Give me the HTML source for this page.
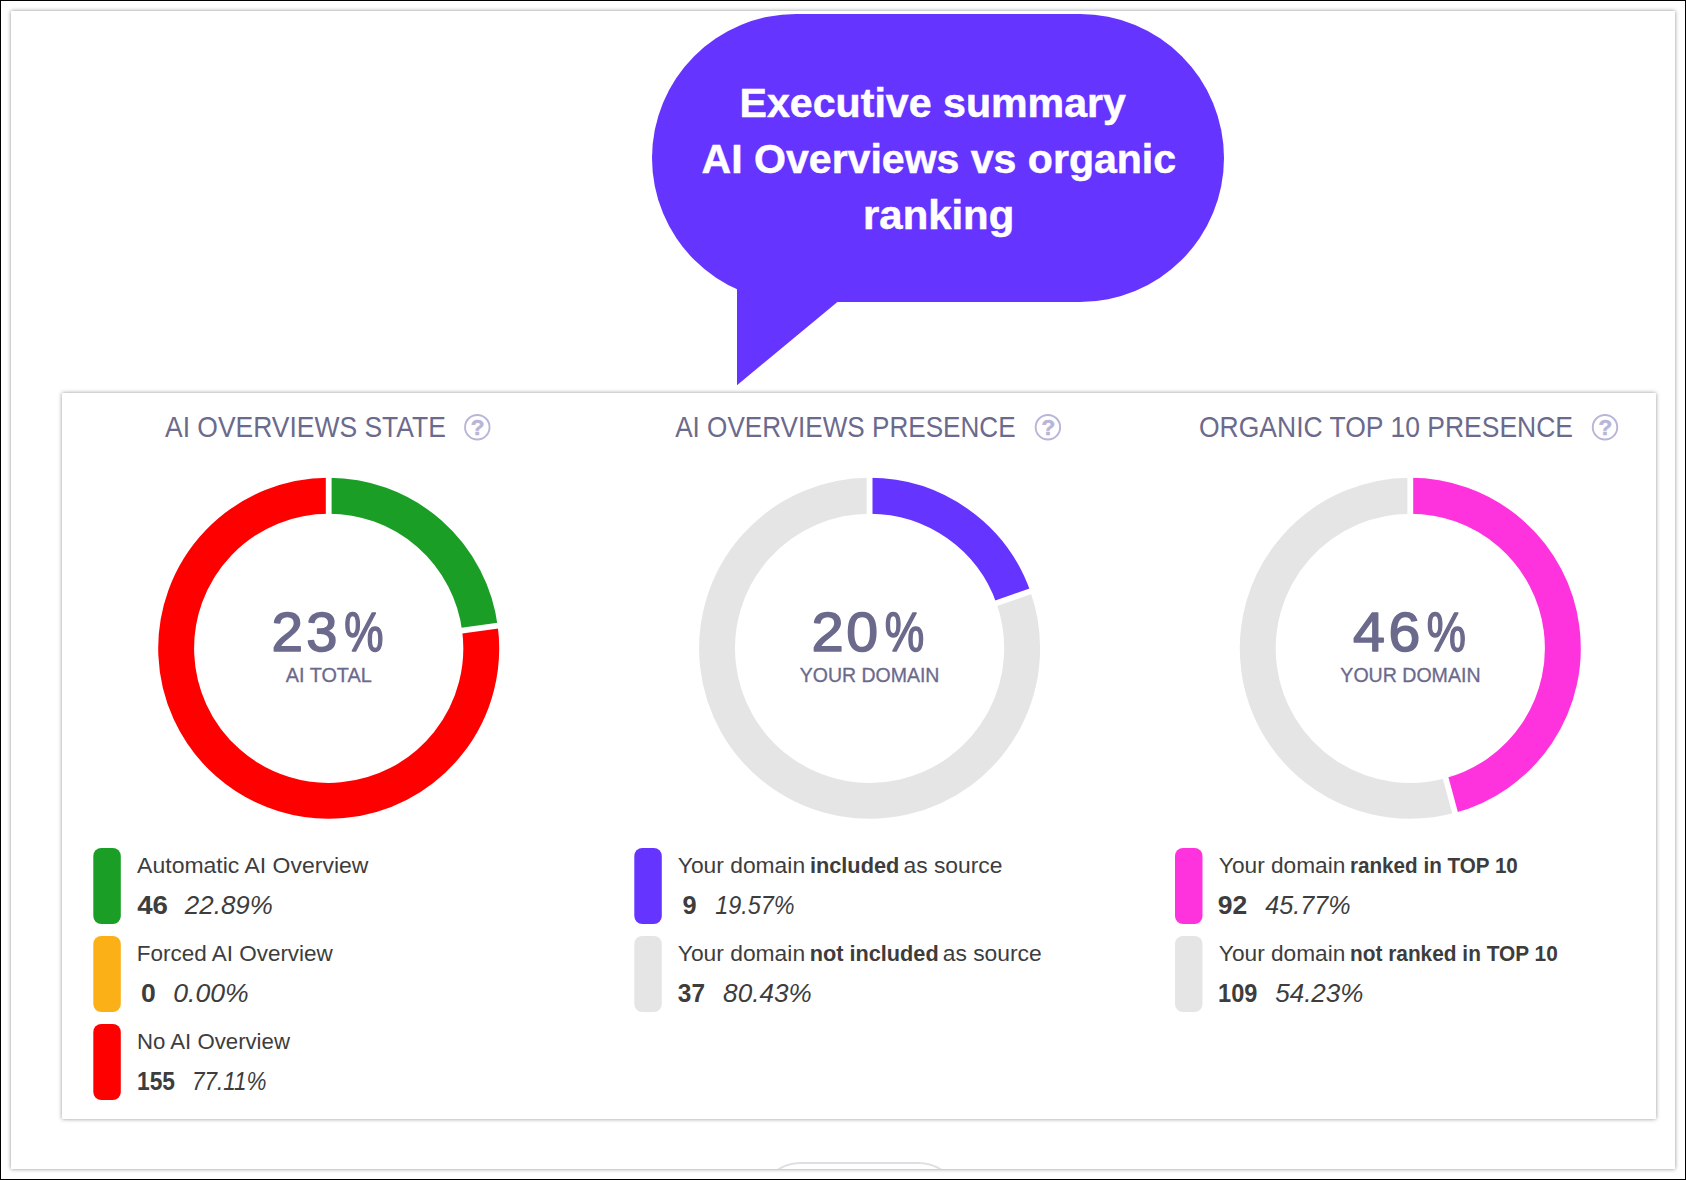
<!DOCTYPE html>
<html lang="en"><head><meta charset="utf-8"><title>Executive summary: AI Overviews vs organic ranking</title>
<style>
html,body{margin:0;padding:0;background:#fff}
body{width:1686px;height:1180px;position:relative;overflow:hidden;font-family:"Liberation Sans", sans-serif}
.outer{position:absolute;left:0;top:0;width:1684px;height:1177.6px;border:1px solid #000;border-bottom-width:1.4px}
.frame{position:absolute;left:10.5px;top:10.5px;width:1664.3px;height:1158.6px;background:#fff;box-shadow:0 0 4px rgba(0,0,0,.45);overflow:hidden}
.card{position:absolute;left:61.5px;top:393px;width:1594.2px;height:725.5px;background:#fff;border-radius:1px;box-shadow:0 0 4px rgba(0,0,0,.42)}
.bubble{position:absolute;left:652px;top:14px;width:572px;height:288px;border-radius:144px;background:#6534ff}
.pill{position:absolute;left:746.1px;top:1151.6px;width:205.8px;height:88px;border:2px solid #dddfe3;border-radius:44px;box-sizing:border-box}
svg{position:absolute;left:0;top:0}
text{font-family:"Liberation Sans", sans-serif;white-space:pre}
</style></head><body>
<div class="outer"></div>
<div class="frame"><div class="pill"></div></div>
<div class="card"></div>
<div class="bubble"></div>
<svg class="overlay" width="1686" height="1180" viewBox="0 0 1686 1180">
<g class="bubble-text">
<polygon points="737,280 737,385.2 838,301.5 838,280" fill="#6534ff"/>
<text y="117.35" font-size="40.60" fill="#fff" stroke="#fff" stroke-width="0.5" stroke-linejoin="round"><tspan x="739.54" textLength="386.44" lengthAdjust="spacingAndGlyphs" font-weight="700">Executive summary</tspan></text>
<text y="173.05" font-size="40.60" fill="#fff" stroke="#fff" stroke-width="0.5" stroke-linejoin="round"><tspan x="701.64" textLength="474.45" lengthAdjust="spacingAndGlyphs" font-weight="700">AI Overviews vs organic</tspan></text>
<text y="228.65" font-size="40.60" fill="#fff" stroke="#fff" stroke-width="0.5" stroke-linejoin="round"><tspan x="863.07" textLength="151.18" lengthAdjust="spacingAndGlyphs" font-weight="700">ranking</tspan></text>
</g>
<g class="col c1" aria-label="AI Overviews state">
<path d="M327.90 495.75A152.55 152.55 0 0 1 480.01 628.93" stroke="#1a9e26" stroke-width="35.9" fill="none"/>
<path d="M479.80 627.34A152.55 152.55 0 1 1 329.50 495.75" stroke="#ff0000" stroke-width="35.9" fill="none"/>
<line x1="328.70" y1="517.70" x2="328.70" y2="473.80" stroke="#fff" stroke-width="5.8"/>
<line x1="458.15" y1="631.04" x2="501.67" y2="625.23" stroke="#fff" stroke-width="5.8"/>
<circle cx="477.3" cy="427.2" r="12.25" fill="none" stroke="#b7b5d8" stroke-width="1.9"/><text x="477.7" y="435.2" text-anchor="middle" font-size="22.6" font-weight="700" fill="#b7b5d8" stroke="#b7b5d8" stroke-width="0.5">?</text>
<rect x="93.3" y="848" width="27.5" height="76" rx="8" ry="8" fill="#1a9e26"/>
<rect x="93.3" y="936" width="27.5" height="76" rx="8" ry="8" fill="#fbb017"/>
<rect x="93.3" y="1024" width="27.5" height="76" rx="8" ry="8" fill="#ff0000"/>
<text y="436.60" font-size="28.78" fill="#6b6a8c"><tspan x="165.02" textLength="280.78" lengthAdjust="spacingAndGlyphs">AI OVERVIEWS STATE</tspan></text>
<text y="651.15" font-size="56.20" fill="#6b6a8c" stroke="#6b6a8c" stroke-width="1.5" stroke-linejoin="round"><tspan x="271.46" textLength="31.53" lengthAdjust="spacingAndGlyphs">2</tspan><tspan x="306.32" textLength="31.17" lengthAdjust="spacingAndGlyphs">3</tspan><tspan x="344.25" textLength="39.26" lengthAdjust="spacingAndGlyphs">%</tspan></text>
<text y="682.35" font-size="19.48" fill="#6b6a8c" stroke="#6b6a8c" stroke-width="0.3" stroke-linejoin="round"><tspan x="285.74" textLength="86.02" lengthAdjust="spacingAndGlyphs">AI TOTAL</tspan></text>
<text y="873.10" font-size="22.67" fill="#3d3d3d"><tspan x="137.14" textLength="231.31" lengthAdjust="spacingAndGlyphs">Automatic AI Overview</tspan></text>
<text y="914.40" font-size="25.57" fill="#3d3d3d"><tspan x="137.19" textLength="30.79" lengthAdjust="spacingAndGlyphs" font-weight="700">46</tspan> <tspan x="184.86" textLength="87.95" lengthAdjust="spacingAndGlyphs" font-style="italic">22.89%</tspan></text>
<text y="961.00" font-size="22.67" fill="#3d3d3d"><tspan x="136.78" textLength="196.05" lengthAdjust="spacingAndGlyphs">Forced AI Overview</tspan></text>
<text y="1002.30" font-size="25.57" fill="#3d3d3d"><tspan x="140.91" textLength="14.77" lengthAdjust="spacingAndGlyphs" font-weight="700">0</tspan> <tspan x="173.30" textLength="75.37" lengthAdjust="spacingAndGlyphs" font-style="italic">0.00%</tspan></text>
<text y="1048.90" font-size="22.67" fill="#3d3d3d"><tspan x="136.96" textLength="152.99" lengthAdjust="spacingAndGlyphs">No AI Overview</tspan></text>
<text y="1090.20" font-size="25.57" fill="#3d3d3d"><tspan x="136.99" textLength="38.05" lengthAdjust="spacingAndGlyphs" font-weight="700">155</tspan> <tspan x="191.89" textLength="74.59" lengthAdjust="spacingAndGlyphs" font-style="italic">77.11%</tspan></text>
</g>
<g class="col c2" aria-label="AI Overviews presence">
<path d="M868.80 495.75A152.55 152.55 0 0 1 1013.62 598.01" stroke="#6534ff" stroke-width="35.9" fill="none"/>
<path d="M1013.09 596.51A152.55 152.55 0 1 1 870.40 495.75" stroke="#e5e5e5" stroke-width="35.9" fill="none"/>
<line x1="869.60" y1="517.70" x2="869.60" y2="473.80" stroke="#fff" stroke-width="5.8"/>
<line x1="992.67" y1="604.60" x2="1034.04" y2="589.91" stroke="#fff" stroke-width="5.8"/>
<circle cx="1047.9" cy="427.2" r="12.25" fill="none" stroke="#b7b5d8" stroke-width="1.9"/><text x="1048.3" y="435.2" text-anchor="middle" font-size="22.6" font-weight="700" fill="#b7b5d8" stroke="#b7b5d8" stroke-width="0.5">?</text>
<rect x="634.3" y="848" width="27.5" height="76" rx="8" ry="8" fill="#6534ff"/>
<rect x="634.3" y="936" width="27.5" height="76" rx="8" ry="8" fill="#e5e5e5"/>
<text y="436.60" font-size="28.78" fill="#6b6a8c"><tspan x="675.19" textLength="340.39" lengthAdjust="spacingAndGlyphs">AI OVERVIEWS PRESENCE</tspan></text>
<text y="651.15" font-size="56.20" fill="#6b6a8c" stroke="#6b6a8c" stroke-width="1.5" stroke-linejoin="round"><tspan x="811.60" textLength="32.26" lengthAdjust="spacingAndGlyphs">2</tspan><tspan x="846.36" textLength="31.84" lengthAdjust="spacingAndGlyphs">0</tspan><tspan x="884.67" textLength="39.51" lengthAdjust="spacingAndGlyphs">%</tspan></text>
<text y="682.35" font-size="19.48" fill="#6b6a8c" stroke="#6b6a8c" stroke-width="0.3" stroke-linejoin="round"><tspan x="799.80" textLength="139.64" lengthAdjust="spacingAndGlyphs">YOUR DOMAIN</tspan></text>
<text y="873.10" font-size="22.67" fill="#3d3d3d"><tspan x="677.80" textLength="127.28" lengthAdjust="spacingAndGlyphs">Your domain</tspan> <tspan x="809.89" textLength="89.46" lengthAdjust="spacingAndGlyphs" font-weight="700">included</tspan> <tspan x="903.45" textLength="99.03" lengthAdjust="spacingAndGlyphs">as source</tspan></text>
<text y="914.40" font-size="25.57" fill="#3d3d3d"><tspan x="682.55" textLength="14.08" lengthAdjust="spacingAndGlyphs" font-weight="700">9</tspan> <tspan x="715.30" textLength="79.34" lengthAdjust="spacingAndGlyphs" font-style="italic">19.57%</tspan></text>
<text y="961.00" font-size="22.67" fill="#3d3d3d"><tspan x="677.80" textLength="127.28" lengthAdjust="spacingAndGlyphs">Your domain</tspan> <tspan x="809.72" textLength="128.96" lengthAdjust="spacingAndGlyphs" font-weight="700">not included</tspan> <tspan x="942.71" textLength="99.04" lengthAdjust="spacingAndGlyphs">as source</tspan></text>
<text y="1002.30" font-size="25.57" fill="#3d3d3d"><tspan x="677.87" textLength="27.15" lengthAdjust="spacingAndGlyphs" font-weight="700">37</tspan> <tspan x="723.11" textLength="88.57" lengthAdjust="spacingAndGlyphs" font-style="italic">80.43%</tspan></text>
</g>
<g class="col c3" aria-label="Organic top 10 presence">
<path d="M1409.50 495.75A152.55 152.55 0 0 1 1449.60 795.70" stroke="#ff33de" stroke-width="35.9" fill="none"/>
<path d="M1451.14 795.28A152.55 152.55 0 1 1 1411.10 495.75" stroke="#e5e5e5" stroke-width="35.9" fill="none"/>
<line x1="1410.30" y1="517.70" x2="1410.30" y2="473.80" stroke="#fff" stroke-width="5.8"/>
<line x1="1444.60" y1="774.31" x2="1456.13" y2="816.67" stroke="#fff" stroke-width="5.8"/>
<circle cx="1605" cy="427.2" r="12.25" fill="none" stroke="#b7b5d8" stroke-width="1.9"/><text x="1605.4" y="435.2" text-anchor="middle" font-size="22.6" font-weight="700" fill="#b7b5d8" stroke="#b7b5d8" stroke-width="0.5">?</text>
<rect x="1175" y="848" width="27.5" height="76" rx="8" ry="8" fill="#ff33de"/>
<rect x="1175" y="936" width="27.5" height="76" rx="8" ry="8" fill="#e5e5e5"/>
<text y="436.60" font-size="28.78" fill="#6b6a8c"><tspan x="1198.98" textLength="374.09" lengthAdjust="spacingAndGlyphs">ORGANIC TOP 10 PRESENCE</tspan></text>
<text y="651.15" font-size="56.20" fill="#6b6a8c" stroke="#6b6a8c" stroke-width="1.5" stroke-linejoin="round"><tspan x="1353.04" textLength="31.85" lengthAdjust="spacingAndGlyphs">4</tspan><tspan x="1388.53" textLength="31.77" lengthAdjust="spacingAndGlyphs">6</tspan><tspan x="1426.70" textLength="39.14" lengthAdjust="spacingAndGlyphs">%</tspan></text>
<text y="682.35" font-size="19.48" fill="#6b6a8c" stroke="#6b6a8c" stroke-width="0.3" stroke-linejoin="round"><tspan x="1340.33" textLength="140.21" lengthAdjust="spacingAndGlyphs">YOUR DOMAIN</tspan></text>
<text y="873.10" font-size="22.67" fill="#3d3d3d"><tspan x="1218.85" textLength="126.56" lengthAdjust="spacingAndGlyphs">Your domain</tspan> <tspan x="1350.01" textLength="167.86" lengthAdjust="spacingAndGlyphs" font-weight="700">ranked in TOP 10</tspan></text>
<text y="914.40" font-size="25.57" fill="#3d3d3d"><tspan x="1217.70" textLength="29.49" lengthAdjust="spacingAndGlyphs" font-weight="700">92</tspan> <tspan x="1265.28" textLength="85.20" lengthAdjust="spacingAndGlyphs" font-style="italic">45.77%</tspan></text>
<text y="961.00" font-size="22.67" fill="#3d3d3d"><tspan x="1218.85" textLength="126.56" lengthAdjust="spacingAndGlyphs">Your domain</tspan> <tspan x="1349.97" textLength="207.79" lengthAdjust="spacingAndGlyphs" font-weight="700">not ranked in TOP 10</tspan></text>
<text y="1002.30" font-size="25.57" fill="#3d3d3d"><tspan x="1218.11" textLength="39.32" lengthAdjust="spacingAndGlyphs" font-weight="700">109</tspan> <tspan x="1275.21" textLength="88.22" lengthAdjust="spacingAndGlyphs" font-style="italic">54.23%</tspan></text>
</g>
</svg>
</body></html>
